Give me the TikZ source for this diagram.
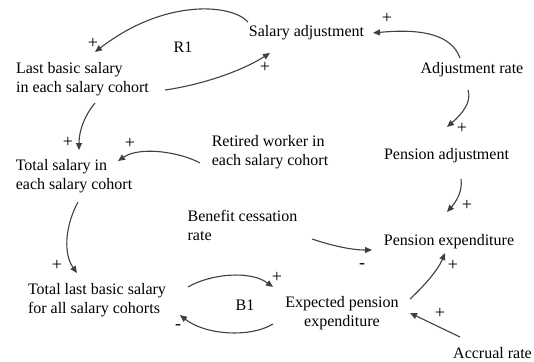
\documentclass[tikz,border=0pt]{standalone}
\usepackage{fontspec}
\setmainfont{Liberation Serif}
\usetikzlibrary{arrows.meta}
\begin{document}
\begin{tikzpicture}[x=1pt,y=-1pt,
  lbl/.style={inner sep=0pt,font=\fontsize{16}{19}\selectfont},
  sgn/.style={inner sep=0pt,font=\fontsize{18}{18}\selectfont},
  link/.style={draw=black!75,line width=1.1pt,-{Triangle[length=7pt,width=6pt]}}]
\useasboundingbox[fill=white] (0,0) rectangle (534,361);
% variables
\node[lbl] (sal) at (306.5,33) {Salary adjustment};
\node[lbl] (r1) at (183,47) {R1};
\node[lbl,align=left] (last) at (82.5,79) {Last basic salary\\in each salary cohort};
\node[lbl] (adj) at (472,70) {Adjustment rate};
\node[lbl,align=left] (tot) at (74,176) {Total salary in\\each salary cohort};
\node[lbl,align=left] (ret) at (270,152) {Retired worker in\\each salary cohort};
\node[lbl] (padj) at (446.5,156) {Pension adjustment};
\node[lbl,align=left] (ben) at (242.5,225) {Benefit cessation\\rate};
\node[lbl] (pexp) at (449,242) {Pension expenditure};
\node[lbl,align=left] (tlast) at (97,300) {Total last basic salary\\for all salary cohorts};
\node[lbl] (b1) at (245,305) {B1};
\node[lbl,align=center] (expd) at (342,313) {Expected pension\\expenditure};
\node[lbl] (acc) at (492.5,353) {Accrual rate};
% signs
\node[sgn] (s1) at (93,43) {+};
\node[sgn] (s2) at (265,67) {+};
\node[sgn] (s3) at (387,18) {+};
\node[sgn] (s4) at (462,128) {+};
\node[sgn] (s5) at (467,205) {+};
\node[sgn] (s6) at (68,142) {+};
\node[sgn] (s7) at (130,143) {+};
\node[sgn] (s8) at (57,265) {+};
\node[sgn] (s9) at (277,277) {+};
\node[sgn] (s10) at (178,327) {-};
\node[sgn] (s11) at (362,266) {-};
\node[sgn] (s12) at (453,265) {+};
\node[sgn] (s13) at (440,313) {+};
% links
\draw[link] ([shift={(-58.5,-11)}]sal.center) .. controls +(-16,-18) and +(70,-54) .. ([shift={(12.5,-27)}]last.center);
\draw[link] ([shift={(82.5,11)}]last.center) .. controls +(35,-5) and +(-30,19) .. ([shift={(-36.5,20)}]sal.center);
\draw[link] ([shift={(-12,-12)}]adj.center) .. controls +(-8,-22) and +(52,-5) .. ([shift={(66.5,0)}]sal.center);
\draw[link] ([shift={(-4,20)}]adj.center) .. controls +(4,12) and +(15,-13) .. ([shift={(0.5,-29)}]padj.center);
\draw[link] ([shift={(14.5,23)}]padj.center) .. controls +(2,13) and +(8,-9) .. ([shift={(-2,-30)}]pexp.center);
\draw[link] ([shift={(12.5,24)}]last.center) .. controls +(-10,12) and +(0,-20) .. ([shift={(5,-26)}]tot.center);
\draw[link] ([shift={(-70,11)}]ret.center) .. controls +(-20,-11) and +(22,-15) .. ([shift={(44,-15)}]tot.center);
\draw[link] ([shift={(4,26)}]tot.center) .. controls +(-14,26) and +(-13,-18) .. ([shift={(-20,-27)}]tlast.center);
\draw[link] ([shift={(69.5,14)}]ben.center) .. controls +(18,6) and +(-22,0) .. ([shift={(-77,8)}]pexp.center);
\draw[link] ([shift={(91,-13)}]tlast.center) .. controls +(22,-13) and +(-23,-17) .. ([shift={(-69,-26)}]expd.center);
\draw[link] ([shift={(-69,11)}]expd.center) .. controls +(-23,14) and +(25,20) .. ([shift={(83,15)}]tlast.center);
\draw[link] ([shift={(68,-14)}]expd.center) .. controls +(15,-14) and +(-7,17) .. ([shift={(-4,11)}]pexp.center);
\draw[link] ([shift={(-32.5,-16)}]acc.center) -- ([shift={(68,0)}]expd.center);
\end{tikzpicture}
\end{document}
